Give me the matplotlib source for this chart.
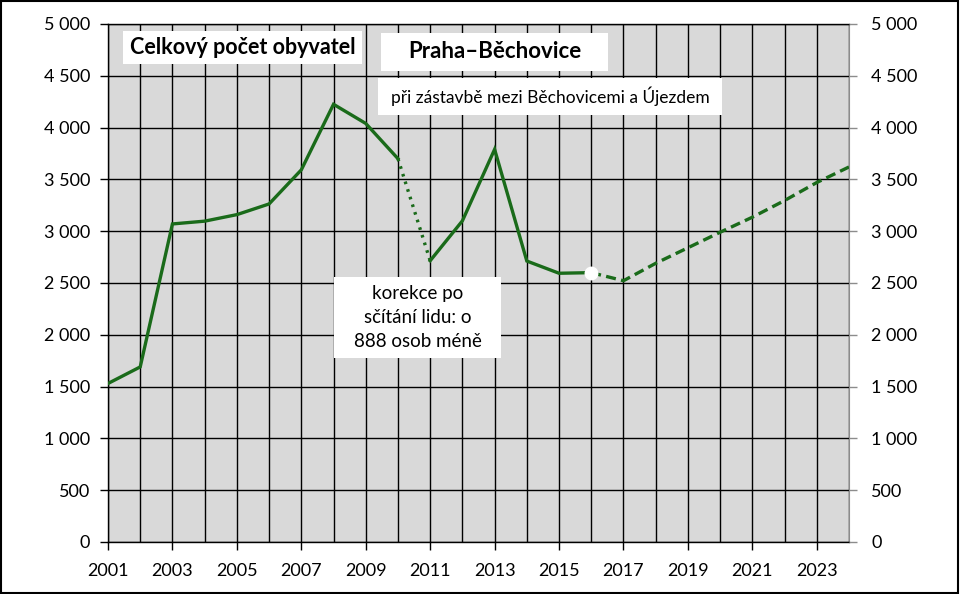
import matplotlib
matplotlib.use("Agg")
import matplotlib.pyplot as plt
from matplotlib.patches import Rectangle
from matplotlib.ticker import FuncFormatter, MultipleLocator

# --- data -------------------------------------------------------------------
years_hist1 = [2001, 2002, 2003, 2004, 2005, 2006, 2007, 2008, 2009, 2010]
pop_hist1 = [1530, 1690, 3070, 3097, 3160, 3263, 3592, 4225, 4040, 3700]

years_fix = [2010, 2011]          # korekce po sčítání lidu
pop_fix = [3700, 2715]

years_hist2 = [2011, 2012, 2013, 2014, 2015, 2016]
pop_hist2 = [2715, 3100, 3790, 2712, 2594, 2600]

years_proj = [2016, 2017, 2018, 2019, 2020, 2021, 2022, 2023, 2024]
pop_proj = [2600, 2522, 2690, 2840, 2990, 3135, 3296, 3470, 3620]

title_left = "Celkový počet obyvatel"
title_main = "Praha–Běchovice"
subtitle = "při zástavbě mezi Běchovicemi a Újezdem"
note = "korekce po\nsčítání lidu: o\n888 osob méně"

# --- style ------------------------------------------------------------------
GREEN = "#1a6b1a"
PLOT_BG = "#d9d9d9"
W, H = 960, 594

plt.rcParams["font.family"] = ["Lato", "DejaVu Sans"]

fig = plt.figure(figsize=(W / 100, H / 100), dpi=100)
ax = fig.add_axes([108 / W, 1 - 542 / H, (849 - 108) / W, (542 - 24) / H])
ax.set_facecolor(PLOT_BG)

ax.set_xlim(2001, 2024)
ax.set_ylim(0, 5000)

fmt = FuncFormatter(lambda v, _: f"{int(v):,}".replace(",", " "))

ax.xaxis.set_minor_locator(MultipleLocator(1))
ax.set_xticks(range(2001, 2024, 2))
ax.yaxis.set_major_locator(MultipleLocator(500))
ax.yaxis.set_major_formatter(fmt)
ax.grid(True, which="both", color="black", linewidth=1.0, zorder=1)
ax.set_axisbelow(True)

ax.tick_params(axis="x", which="major", length=6, width=1.0, labelsize=13,
               pad=9, colors="black")
ax.tick_params(axis="x", which="minor", length=0)
ax.tick_params(axis="y", length=6, width=1.0, labelsize=13, pad=7)

for side in ("left", "bottom", "top"):
    ax.spines[side].set_color("black")
    ax.spines[side].set_linewidth(1.0)
ax.spines["right"].set_color("#8c8c8c")

ax2 = ax.twinx()
ax2.set_ylim(0, 5000)
ax2.yaxis.set_major_locator(MultipleLocator(500))
ax2.yaxis.set_major_formatter(fmt)
ax2.tick_params(axis="y", length=6, width=1.0, color="#8c8c8c",
                labelsize=13, pad=10)
for s in ax2.spines.values():
    s.set_visible(False)

# --- lines ------------------------------------------------------------------
lw = 2.4
ax.plot(years_hist1, pop_hist1, color=GREEN, lw=lw, zorder=3,
        solid_joinstyle="miter")
ax.plot(years_fix, pop_fix, color=GREEN, lw=lw, ls=(0, (0.8, 1.6)),
        dash_capstyle="butt", zorder=3)
ax.plot(years_hist2, pop_hist2, color=GREEN, lw=lw, zorder=3,
        solid_joinstyle="miter")
ax.plot(years_proj, pop_proj, color=GREEN, lw=lw, ls=(0, (3, 1.6)),
        zorder=3)
ax.plot([years_proj[0]], [pop_proj[0]], "o", color="white", ms=9, zorder=4)

# --- text boxes (pixel boxes) -------------------------------------------------
def box(x0, y0, x1, y1, text, **kw):
    fig.patches.append(Rectangle((x0 / W, 1 - y1 / H), (x1 - x0) / W,
                                 (y1 - y0) / H, transform=fig.transFigure,
                                 facecolor="white", edgecolor="none", zorder=5))
    fig.text((x0 + x1) / 2 / W, 1 - (y0 + y1) / 2 / H, text, ha="center",
             va="center", zorder=6, **kw)

box(123, 31, 362, 64, title_left, fontsize=15.5, fontweight="bold")
box(381, 33, 608, 71, title_main, fontsize=16, fontweight="bold")
box(378, 78, 722, 115, subtitle, fontsize=12.5)
box(334, 277, 501, 358, note, fontsize=13.5, linespacing=1.5)

# frame around the whole picture
fig.patches.append(Rectangle((0.001, 0.002), 0.997, 0.996,
                             transform=fig.transFigure, fill=False,
                             edgecolor="black", linewidth=1.5, zorder=10))

fig.savefig("out.png", dpi=100)
